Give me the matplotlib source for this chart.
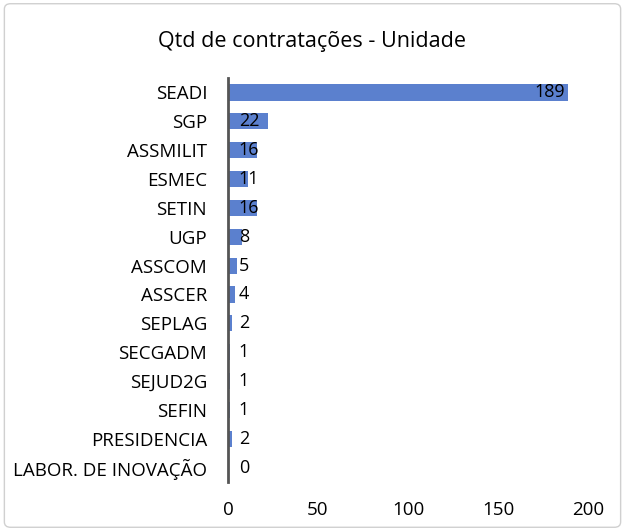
import matplotlib.pyplot as plt
from matplotlib.patches import FancyBboxPatch

# data
unidades = ['SEADI', 'SGP', 'ASSMILIT', 'ESMEC', 'SETIN', 'UGP', 'ASSCOM', 'ASSCER',
            'SEPLAG', 'SECGADM', 'SEJUD2G', 'SEFIN', 'PRESIDENCIA', 'LABOR. DE INOVAÇÃO']
qtd = [189, 22, 16, 11, 16, 8, 5, 4, 2, 1, 1, 1, 2, 0]
xticks = [0, 50, 100, 150, 200]

plt.rcParams['font.family'] = ['Open Sans', 'DejaVu Sans']

fig = plt.figure(figsize=(6.25, 5.31), dpi=100)
fig.patches.append(FancyBboxPatch((0.007, 0.007), 0.986, 0.986, boxstyle='round,pad=0,rounding_size=0.01',
                                  transform=fig.transFigure, fill=False, edgecolor='#d0d0d0', lw=1))

ax = fig.add_axes([0.3648, 0.0923, 0.576, 0.7607])
pos = list(range(len(unidades)))
ax.barh(pos, qtd, height=0.56, color='#5B80CE')

for p, v in zip(pos, qtd):
    if v > 100:
        ax.text(v - 1.5, p, str(v), ha='right', va='center', fontsize=13, color='black')
    else:
        ax.text(6, p, str(v), ha='left', va='center', fontsize=13, color='black')

ax.set_ylim(13.5, -0.5)
ax.set_xlim(0, 200)
ax.set_yticks(pos)
ax.set_yticklabels(unidades, fontsize=13.5)
ax.set_xticks(xticks)
ax.set_xticklabels([str(t) for t in xticks], fontsize=13.5)
ax.tick_params(length=0)
ax.tick_params(axis='y', pad=15)
ax.tick_params(axis='x', pad=14)
for s in ['top', 'right', 'bottom']:
    ax.spines[s].set_visible(False)
ax.spines['left'].set_color('#555555')
ax.spines['left'].set_linewidth(2)

fig.text(0.5, 0.921, 'Qtd de contratações - Unidade', ha='center', va='center', fontsize=15.5)

fig.savefig('out.png', dpi=100)
